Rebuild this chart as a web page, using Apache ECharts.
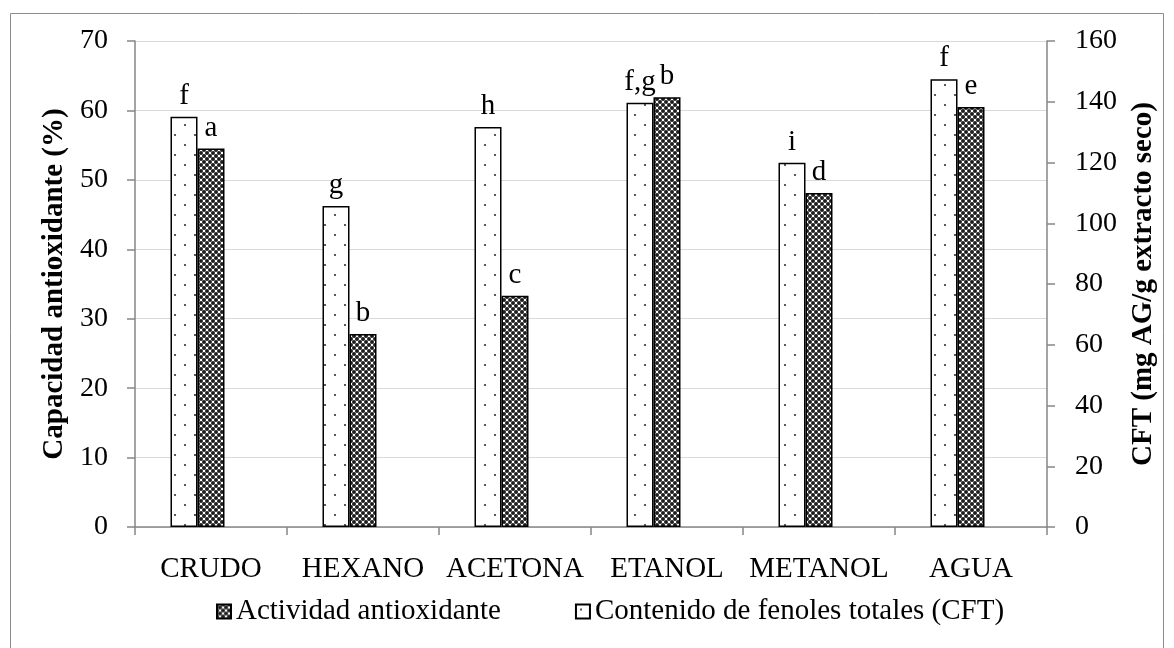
<!DOCTYPE html>
<html>
<head>
<meta charset="utf-8">
<script src="https://cdn.jsdelivr.net/npm/echarts@6/dist/echarts.min.js"></script>
<style>
  html, body { margin: 0; padding: 0; background: #fff; }
  #chart { width: 1174px; height: 648px; }
</style>
</head>
<body>
<div id="chart"></div>
<script>
// data
var categories = ['CRUDO', 'HEXANO', 'ACETONA', 'ETANOL', 'METANOL', 'AGUA'];
var actividad = [54.5, 27.8, 33.3, 61.9, 48.1, 60.5];        // left axis (%)
var cft = [135.1, 105.7, 131.7, 139.7, 119.9, 147.4];        // right axis (mg AG/g)
var actividadLetters = ['a', 'b', 'c', 'b', 'd', 'e'];
var cftLetters = ['f', 'g', 'h', 'f,g', 'i', 'f'];

var font = 'Liberation Serif';
var fs = 29;
var tickFs = 28;
var axisGray = '#868686';

// dotted fill for the CFT bars
function dotPattern() {
  var c = document.createElement('canvas');
  c.width = 20; c.height = 20;
  var ctx = c.getContext('2d');
  ctx.fillStyle = '#fff';
  ctx.fillRect(0, 0, 20, 20);
  ctx.fillStyle = '#333';
  ctx.beginPath(); ctx.arc(5, 5, 1.1, 0, Math.PI * 2); ctx.fill();
  ctx.beginPath(); ctx.arc(15, 15, 1.1, 0, Math.PI * 2); ctx.fill();
  return c;
}
// dark crosshatch fill for the activity bars
function hatchPattern() {
  var c = document.createElement('canvas');
  c.width = 6; c.height = 6;
  var ctx = c.getContext('2d');
  ctx.fillStyle = '#fff';
  ctx.fillRect(0, 0, 6, 6);
  ctx.fillStyle = '#1e1e1e';
  [[0, 0], [6, 0], [0, 6], [6, 6], [3, 3]].forEach(function (p) {
    ctx.beginPath(); ctx.arc(p[0], p[1], 2, 0, Math.PI * 2); ctx.fill();
  });
  return c;
}

var myChart = echarts.init(document.getElementById('chart'));
myChart.setOption({
  animation: false,
  textStyle: { fontFamily: font, color: '#000' },
  graphic: [{
    type: 'rect',
    shape: { x: 10.5, y: 13.5, width: 1153, height: 640 },
    style: { fill: 'none', stroke: '#8c8c8c', lineWidth: 1 },
    silent: true
  }],
  grid: { left: 135, right: 127, top: 41, bottom: 121 },
  legend: {
    left: 211,
    top: 592,
    itemWidth: 14,
    itemHeight: 14,
    itemGap: 74,
    icon: 'rect',
    data: ['Actividad antioxidante', 'Contenido de fenoles totales (CFT)'],
    textStyle: { fontFamily: font, fontSize: fs, color: '#000' }
  },
  xAxis: {
    type: 'category',
    data: categories,
    axisLine: { lineStyle: { color: axisGray, width: 1.5 } },
    axisTick: { show: true, length: 8, lineStyle: { color: axisGray, width: 1.5 } },
    axisLabel: { fontFamily: font, fontSize: fs, color: '#000', margin: 28, interval: 0 }
  },
  yAxis: [
    {
      type: 'value', min: 0, max: 70, interval: 10,
      name: 'Capacidad antioxidante (%)',
      nameLocation: 'middle', nameGap: 53, nameRotate: 90,
      nameTextStyle: { fontFamily: font, fontSize: fs, fontWeight: 'bold', color: '#000' },
      axisLine: { show: true, lineStyle: { color: axisGray, width: 1.5 } },
      axisTick: { show: true, length: 8, lineStyle: { color: axisGray, width: 1.5 } },
      axisLabel: { fontFamily: font, fontSize: tickFs, color: '#000', margin: 27 },
      splitLine: { show: true, lineStyle: { color: '#d9d9d9', width: 1 } }
    },
    {
      type: 'value', min: 0, max: 160, interval: 20,
      position: 'right',
      name: 'CFT (mg AG/g extracto seco)',
      nameLocation: 'middle', nameGap: 82, nameRotate: 90,
      nameTextStyle: { fontFamily: font, fontSize: fs, fontWeight: 'bold', color: '#000' },
      axisLine: { show: true, lineStyle: { color: axisGray, width: 1.5 } },
      axisTick: { show: true, length: 8, lineStyle: { color: axisGray, width: 1.5 } },
      axisLabel: { fontFamily: font, fontSize: tickFs, color: '#000', margin: 28 },
      splitLine: { show: false }
    }
  ],
  series: [
    {
      name: 'Contenido de fenoles totales (CFT)',
      type: 'bar',
      yAxisIndex: 1,
      data: cft,
      barWidth: 27,
      barGap: '0%',
      itemStyle: {
        color: { image: dotPattern(), repeat: 'repeat' },
        borderColor: '#000',
        borderWidth: 1.5
      },
      label: {
        show: true, position: 'top', distance: 6,
        fontFamily: font, fontSize: fs, color: '#000',
        formatter: function (p) { return cftLetters[p.dataIndex]; }
      }
    },
    {
      name: 'Actividad antioxidante',
      type: 'bar',
      yAxisIndex: 0,
      data: actividad,
      barWidth: 27,
      barGap: '0%',
      itemStyle: {
        color: { image: hatchPattern(), repeat: 'repeat' },
        borderColor: '#000',
        borderWidth: 1.5
      },
      label: {
        show: true, position: 'top', distance: 6,
        fontFamily: font, fontSize: fs, color: '#000',
        formatter: function (p) { return actividadLetters[p.dataIndex]; }
      }
    },
    {
      // empty slot so the pair sits left of the category centre, as in the original
      name: 'spacer',
      type: 'bar',
      yAxisIndex: 0,
      data: [0, 0, 0, 0, 0, 0],
      barWidth: 27,
      barGap: '0%',
      silent: true,
      itemStyle: { color: 'rgba(0,0,0,0)' }
    }
  ]
});
</script>
</body>
</html>
